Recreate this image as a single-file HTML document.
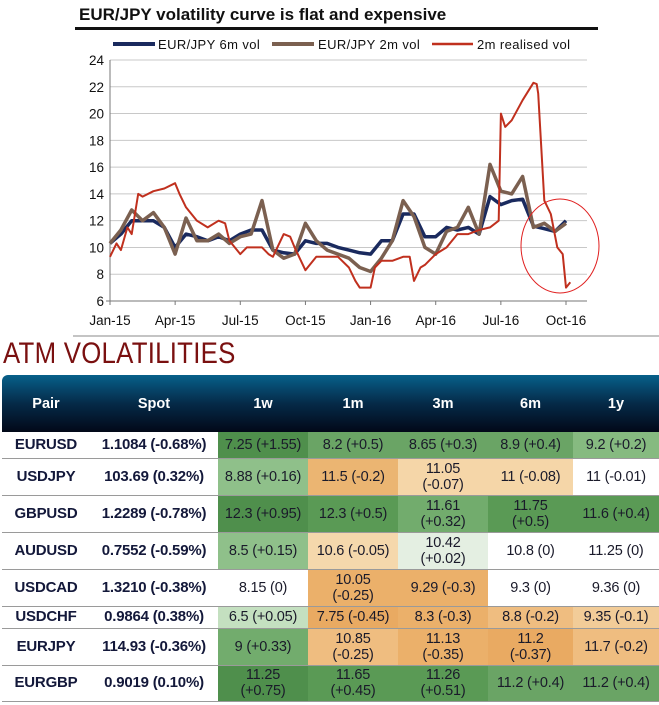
<!DOCTYPE html>
<html><head><meta charset="utf-8"><style>
body{margin:0;width:659px;height:705px;background:#fff;position:relative;overflow:hidden;font-family:"Liberation Sans",sans-serif}
#heading{position:absolute;left:3px;top:338px;font-size:30px;color:#7a1010;letter-spacing:0.3px;line-height:32px;transform:scaleX(0.86);transform-origin:left}
table{position:absolute;left:2px;top:375px;border-collapse:collapse;table-layout:fixed;width:657px}
th{height:57px;color:#fff;font-size:14.5px;font-weight:bold;padding:0;background:linear-gradient(#07608a,#052a48 50%,#020818)}
td{padding:0;text-align:center;font-size:14.5px;color:#1a1a2a;border-bottom:1px solid #9a9a9a;line-height:16px;white-space:nowrap;letter-spacing:-0.2px}
td.p,td.s{font-weight:bold;color:#13183a;background:#fff;font-size:15px}
</style></head><body>
<svg id="chart" width="659" height="340" style="position:absolute;left:0;top:0">
<text x="79" y="20" font-size="17" font-weight="bold" fill="#111" font-family="Liberation Sans">EUR/JPY volatility curve is flat and expensive</text>
<rect x="75" y="27" width="523" height="3" fill="#111"/>
<g id="legend" font-size="13" font-family="Liberation Sans" fill="#111" letter-spacing="0.4">
<line x1="113" y1="44" x2="155" y2="44" stroke="#1a2a5e" stroke-width="4"/>
<text x="158" y="49">EUR/JPY 6m vol</text>
<line x1="272" y1="44" x2="314" y2="44" stroke="#7b6050" stroke-width="4"/>
<text x="318" y="49">EUR/JPY 2m vol</text>
<line x1="432" y1="44" x2="473" y2="44" stroke="#c0301e" stroke-width="2.5"/>
<text x="477" y="49">2m realised vol</text>
</g>
<g id="grid"></g><g id="axes"></g><g id="series"></g>
<ellipse cx="560" cy="246" rx="39" ry="47" fill="none" stroke="#e02020" stroke-width="1"/>
<line x1="73" y1="336" x2="659" y2="336" stroke="#888" stroke-width="1"/>
</svg>
<div id="heading">ATM VOLATILITIES</div>
<table>
<colgroup><col style="width:88px"><col style="width:128px"><col style="width:90px"><col style="width:90px"><col style="width:90px"><col style="width:85px"><col style="width:86px"></colgroup>
<thead><tr>
<th style="border-top-left-radius:6px">Pair</th><th>Spot</th><th>1w</th><th>1m</th><th>3m</th><th>6m</th><th>1y</th></tr></thead>
<tbody id="tb"></tbody></table>
<script>
// chart data
const redT=[0,0.3,0.5,0.8,1,1.3,1.5,2,2.5,3,3.2,3.5,4,4.5,5,5.3,5.5,6,6.3,6.5,7,7.3,7.5,8,8.3,8.5,9,9.1,9.5,10,10.5,11,11.3,11.5,12,12.2,12.5,13,13.5,13.8,14,14.3,14.5,15,15.5,16,16.5,17,17.5,17.9,18,18.2,18.5,19,19.5,19.65,19.72,20,20.3,20.6,20.85,21,21.2];
const redV=[9.3,10.3,9.8,11.5,11,14,13.8,14.2,14.4,14.8,14,13,12,11.5,12,11.8,10.5,9.5,10,10,10,9.5,9.3,11,10.8,10,8.3,8.5,9.3,9.3,9.3,8.5,7.5,7.0,7.0,8.5,9,9,9.3,9.3,7.5,8.5,8.7,9.5,10,11,11,11.3,11.5,12,20,19,19.5,21,22.3,22.2,21.5,13.5,12.5,10,9.5,7,7.4];
const volT=[0,0.5,1,1.5,2,2.5,3,3.5,4,4.5,5,5.5,6,6.5,7,7.5,8,8.5,9,9.5,10,10.5,11,11.5,12,12.5,13,13.5,14,14.5,15,15.5,16,16.5,17,17.5,18,18.5,19,19.5,20,20.5,21];
const brownV=[10.3,11.3,12.8,12,12.6,11.5,9.5,12.2,10.5,10.5,11,10.3,10.8,11,13.5,9.8,9.2,9.5,11.8,10.5,9.8,9.5,9.2,8.5,8.2,9.2,10.5,13.5,12.3,10,9.5,11.2,11.5,13,11,16.2,14.2,14,15.3,11.5,11.8,11.2,11.8];
const blueV=[10.3,11,12,12,12,11.5,10,11,10.8,10.5,10.8,10.5,11,11.3,11.3,9.8,9.6,9.5,10.5,10.3,10.3,10,9.8,9.6,9.5,10.5,10.5,12.5,12.5,10.8,10.8,11.5,11.3,11.5,11,13.8,13.2,13.5,13.6,11.6,11.4,11.2,12];
const yTicks=[6,8,10,12,14,16,18,20,22,24];
const xLabels=["Jan-15","Apr-15","Jul-15","Oct-15","Jan-16","Apr-16","Jul-16","Oct-16"];
const xLabelMonths=[0,3,6,9,12,15,18,21];
const NS="http://www.w3.org/2000/svg";
const X=m=>110+m*(456/21);
const Y=v=>301-(v-6)*(241/18);
function mk(tag,attrs,parent){const e=document.createElementNS(NS,tag);for(const k in attrs)e.setAttribute(k,attrs[k]);parent.appendChild(e);return e;}
const grid=document.getElementById('grid'),axes=document.getElementById('axes'),ser=document.getElementById('series');
yTicks.forEach(v=>{
  if(v>6){const g=mk('line',{x1:110,x2:587,y1:Y(v),y2:Y(v),stroke:'#c8c8c8','stroke-width':1},grid);
  
  }
  const t=mk('text',{x:104,y:Y(v)+5,'text-anchor':'end','font-size':13.5,'font-family':'Liberation Sans','fill':'#111'},axes);
  t.textContent=v;
  
  
});
const ya=mk('line',{x1:110,x2:110,y1:Y(24),y2:Y(6),stroke:'#777','stroke-width':1},axes);


const xa=mk('line',{x1:106,x2:587,y1:Y(6),y2:Y(6),stroke:'#777','stroke-width':1},axes);


xLabels.forEach((l,i)=>{
  const x=X(xLabelMonths[i]);
  mk('line',{x1:x,x2:x,y1:301,y2:305,stroke:'#777'},axes);
  const t=mk('text',{x:x,y:325,'text-anchor':'middle','font-size':13.5,'font-family':'Liberation Sans','fill':'#111'},axes);
  t.textContent=l;
  
  
});
function line(ts,vs,color,w,name){
  const d=ts.map((t,i)=>(i?'L':'M')+X(t).toFixed(1)+','+Y(vs[i]).toFixed(1)).join('');
  const p=mk('path',{d:d,fill:'none',stroke:color,'stroke-width':w,'stroke-linejoin':'round'},ser);
  
  
}
line(volT,blueV,'#1a2a5e',3.5,'series-eurjpy-6m-vol');
line(volT,brownV,'#7b6050',3.5,'series-eurjpy-2m-vol');
line(redT,redV,'#c0301e',2,'series-2m-realised-vol');

// table data
const pairs=["EURUSD","USDJPY","GBPUSD","AUDUSD","USDCAD","USDCHF","EURJPY","EURGBP"];
const spots=["1.1084 (-0.68%)","103.69 (0.32%)","1.2289 (-0.78%)","0.7552 (-0.59%)","1.3210 (-0.38%)","0.9864 (0.38%)","114.93 (-0.36%)","0.9019 (0.10%)"];
const vols=[
["7.25 (+1.55)","8.2 (+0.5)","8.65 (+0.3)","8.9 (+0.4)","9.2 (+0.2)"],
["8.88 (+0.16)","11.5 (-0.2)","11.05<br>(-0.07)","11 (-0.08)","11 (-0.01)"],
["12.3 (+0.95)","12.3 (+0.5)","11.61<br>(+0.32)","11.75<br>(+0.5)","11.6 (+0.4)"],
["8.5 (+0.15)","10.6 (-0.05)","10.42<br>(+0.02)","10.8 (0)","11.25 (0)"],
["8.15 (0)","10.05<br>(-0.25)","9.29 (-0.3)","9.3 (0)","9.36 (0)"],
["6.5 (+0.05)","7.75 (-0.45)","8.3 (-0.3)","8.8 (-0.2)","9.35 (-0.1)"],
["9 (+0.33)","10.85<br>(-0.25)","11.13<br>(-0.35)","11.2<br>(-0.37)","11.7 (-0.2)"],
["11.25<br>(+0.75)","11.65<br>(+0.45)","11.26<br>(+0.51)","11.2 (+0.4)","11.2 (+0.4)"]];
const colors=[
["#4f8f4c","#6aa465","#6aa465","#6aa465","#86ba80"],
["#8fc08a","#ebb572","#f5d6a8","#f5d6a8","#fff"],
["#4f8f4c","#5a9a55","#72ac6d","#5a9a55","#5a9a55"],
["#8fc08a","#f5d8ac","#e4efe2","#fff","#fff"],
["#fff","#ebb06a","#ebb06a","#fff","#fff"],
["#c4e0c0","#e9aa62","#ebb06a","#efbd80","#f2cc98"],
["#72ac6d","#efbd80","#ebb06a","#e9aa62","#efbd80"],
["#4f8f4c","#5a9a55","#5a9a55","#6aa465","#6aa465"]];
const rowH=[26,37,37,37,37,22,37,36];
const tenors=["1w","1m","3m","6m","1y"];
const tb=document.getElementById('tb');
pairs.forEach((p,r)=>{
  const tr=document.createElement('tr');
  
  
  tr.style.height=rowH[r]+'px';
  const a=document.createElement('td');a.className='p';a.textContent=p;
  
  
  tr.appendChild(a);
  const s=document.createElement('td');s.className='s';s.textContent=spots[r];
  
  
  tr.appendChild(s);
  vols[r].forEach((v,c)=>{
    const td=document.createElement('td');td.innerHTML=v;td.style.background=colors[r][c];
    
    
    tr.appendChild(td);
  });
  tb.appendChild(tr);
});
</script>
</body></html>
